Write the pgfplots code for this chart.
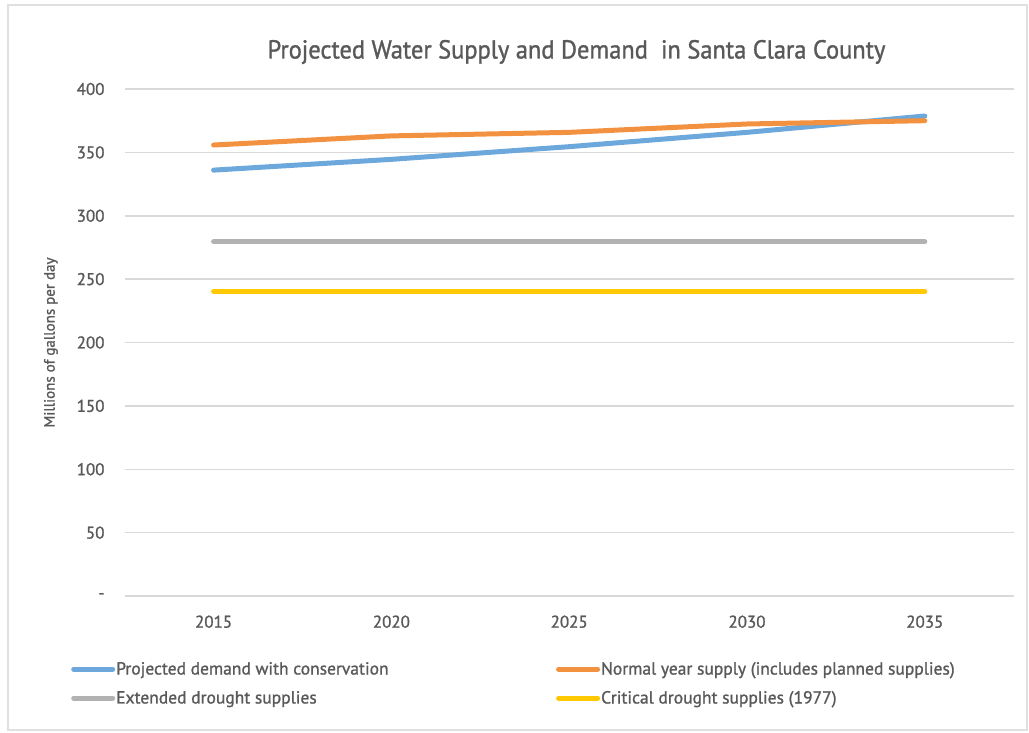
\documentclass[border=0pt]{standalone}
\usepackage{pgfplots}
\pgfplotsset{compat=1.18}
\usepackage{fontspec}
\setmainfont{PT Sans}[FakeBold=1.2]
\newfontfamily\titlefont{PT Sans}[FakeStretch=0.94, FakeBold=1.2]
\definecolor{txt}{HTML}{595959}
\definecolor{gridc}{HTML}{D9D9D9}
\definecolor{cblue}{RGB}{108,168,220}
\definecolor{corange}{RGB}{242,146,64}
\definecolor{cgray}{RGB}{178,178,178}
\definecolor{cyellow}{RGB}{255,200,0}
\begin{document}
\begin{tikzpicture}
\useasboundingbox (0pt,0pt) rectangle (1029pt,732pt);
\draw[color=black!12, line width=2pt] (7.5pt,2pt) rectangle (1027pt,727pt);
\node[text=txt, font=\titlefont\fontsize{26}{30}\selectfont, inner sep=0pt] at (576.5pt,680pt) {Projected Water Supply and Demand\ \ in Santa Clara County};
\begin{axis}[
  at={(124.7pt,136pt)}, anchor=south west,
  scale only axis, width=889pt, height=507pt,
  xmin=-0.5, xmax=4.5, ymin=0, ymax=400,
  xtick={0,1,2,3,4}, xticklabels={2015,2020,2025,2030,2035},
  ytick={0,50,...,400},
  yticklabels={-\hspace{9pt},50,100,150,200,250,300,350,400},
  axis line style={draw=none},
  major tick length=0pt,
  ymajorgrids, grid style={gridc, line width=1.5pt},
  tick label style={font=\fontsize{17}{20}\selectfont, text=txt, inner sep=0pt},
  y tick label style={anchor=east, xshift=-20pt},
  x tick label style={anchor=center, yshift=-25.7pt},
  ylabel={Millions of gallons per day},
  ylabel style={at={(axis description cs:-0.083,0.5)}, anchor=center, font=\fontsize{15}{18}\selectfont, text=txt},
  legend columns=2,
  legend cell align=left,
  legend style={at={(rel axis cs:-0.0604,-0.128)}, anchor=north west, draw=none, fill=none,
    font=\fontsize{17.5}{20}\selectfont, text=txt, inner sep=0pt,
    nodes={inner sep=1pt},
    /tikz/every even column/.append style={column sep=166.5pt},
    row sep=13pt},
  legend image code/.code={\draw[#1, line width=5pt, line cap=round] (2.5pt,0pt) -- (41.5pt,0pt);},
  every axis plot/.append style={line width=5pt, line cap=round, line join=round, mark=none},
]
\addplot[cblue] coordinates {(0,336) (1,344.5) (2,354.5) (3,365.8) (4,378.7)};
\addlegendentry{Projected demand with conservation}
\addplot[corange] coordinates {(0,355.8) (1,363) (2,365.8) (3,372.4) (4,375)};
\addlegendentry{Normal year supply (includes planned supplies)}
\addplot[cgray] coordinates {(0,279.5) (1,279.5) (2,279.5) (3,279.5) (4,279.5)};
\addlegendentry{Extended drought supplies}
\addplot[cyellow] coordinates {(0,240.4) (1,240.4) (2,240.4) (3,240.4) (4,240.4)};
\addlegendentry{Critical drought supplies (1977)}
\end{axis}
\end{tikzpicture}
\end{document}
